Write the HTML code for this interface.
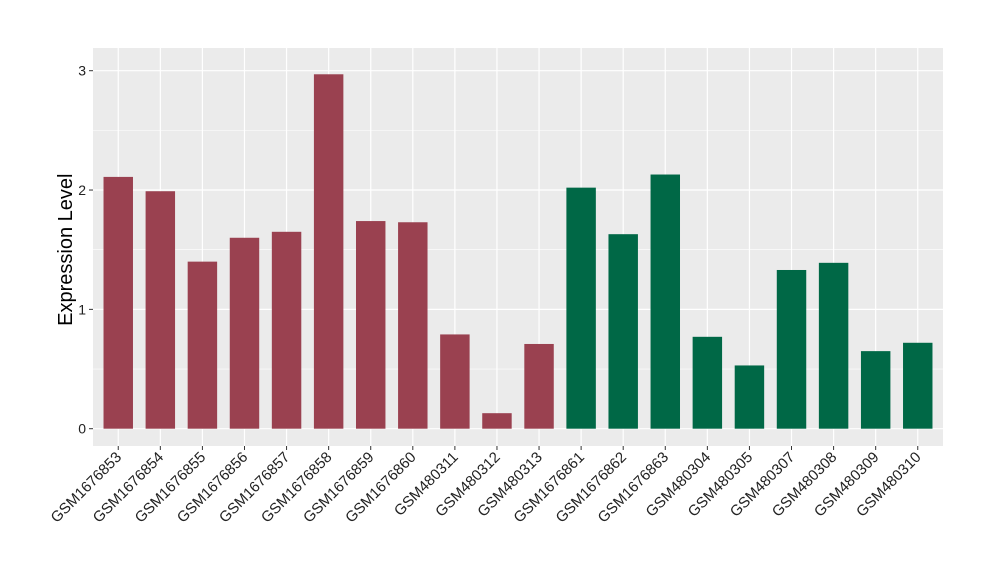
<!DOCTYPE html>
<html><head><meta charset="utf-8"><style>body{margin:0;background:#fff}svg{display:block;font-family:"Liberation Sans",Arial,sans-serif}</style></head>
<body>
<svg id="c" width="1000" height="580"></svg>
<script>
const categories=["GSM1676853","GSM1676854","GSM1676855","GSM1676856","GSM1676857","GSM1676858","GSM1676859","GSM1676860","GSM480311","GSM480312","GSM480313","GSM1676861","GSM1676862","GSM1676863","GSM480304","GSM480305","GSM480307","GSM480308","GSM480309","GSM480310"];
const values=[2.11,1.99,1.40,1.60,1.65,2.97,1.74,1.73,0.79,0.13,0.71,2.02,1.63,2.13,0.77,0.53,1.33,1.39,0.65,0.72];
const groups=[0,0,0,0,0,0,0,0,0,0,0,1,1,1,1,1,1,1,1,1];
const yTicks=[0,1,2,3];
const NS="http://www.w3.org/2000/svg",svg=document.getElementById("c");
const L=93,R=943,T=48,B=446,y0=428.7,y3=70.7;
const y=v=>y0-(y0-y3)*v/3;
const step=(R-L)/(categories.length-1+1.2);
const x=i=>L+step*(i+0.6);
const bw=step*0.7;
const colors=["#9a4150","#006846"];
function mk(t,a,p){const e=document.createElementNS(NS,t);for(const k in a)e.setAttribute(k,a[k]);(p||svg).appendChild(e);return e;}
const panel=mk("rect",{x:L,y:T,width:R-L,height:B-T,fill:"#ebebeb"});


for(let v=0.5;v<3.2;v+=1){const g=mk("line",{x1:L,x2:R,y1:y(v),y2:y(v),stroke:"#fff","stroke-width":0.6});

}
yTicks.forEach(v=>{const g=mk("line",{x1:L,x2:R,y1:y(v),y2:y(v),stroke:"#fff","stroke-width":1.2});


const tk=mk("line",{x1:L-4,x2:L,y1:y(v),y2:y(v),stroke:"#333"});


const t=mk("text",{x:L-7,y:y(v)+5,"text-anchor":"end","font-size":14,fill:"#222"});t.textContent=v;

});
categories.forEach((c,i)=>{const g=mk("line",{x1:x(i),x2:x(i),y1:T,y2:B,stroke:"#fff","stroke-width":1.2});

});
categories.forEach((c,i)=>{
const b=mk("rect",{x:x(i)-bw/2,y:y(values[i]),width:bw,height:y(0)-y(values[i]),fill:colors[groups[i]]});


const tk=mk("line",{x1:x(i),x2:x(i),y1:B,y2:B+4,stroke:"#333"});


const t=mk("text",{x:x(i)+4,y:B+12,"text-anchor":"end","font-size":15,fill:"#222",transform:`rotate(-45 ${x(i)+4} ${B+12})`});t.textContent=c;

});
const yt=mk("text",{x:72,y:y(1.5),"text-anchor":"middle","font-size":20,fill:"#000",transform:`rotate(-90 72 ${y(1.5)})`});yt.textContent="Expression Level";


</script>
</body></html>
